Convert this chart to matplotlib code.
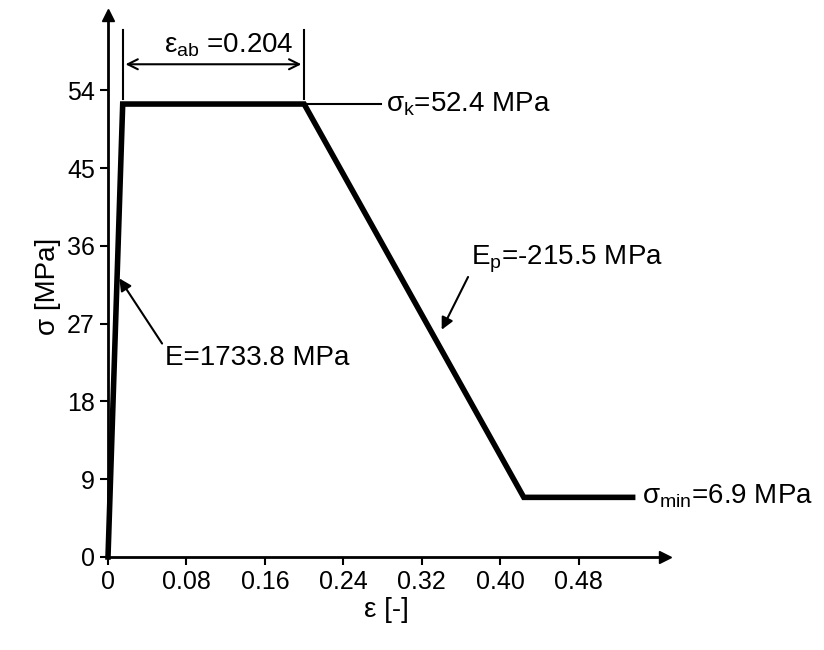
import matplotlib
matplotlib.use("Agg")
import matplotlib.pyplot as plt

strain = [0.0, 0.015, 0.200, 0.424, 0.535]
stress = [0.0, 52.4, 52.4, 6.9, 6.9]
xticks = [0, 0.08, 0.16, 0.24, 0.32, 0.40, 0.48]
xlabels = ["0", "0.08", "0.16", "0.24", "0.32", "0.40", "0.48"]
yticks = [0, 9, 18, 27, 36, 45, 54]

plt.rcParams['font.family'] = ['Liberation Sans', 'DejaVu Sans']
fig = plt.figure(figsize=(8.24, 6.5), dpi=100)
ax = fig.add_axes([108/824, (650-557)/650, (665-108)/824, (557-15)/650])
ax.set_xlim(0, 0.568)
ax.set_ylim(0, 62.7)
for s in ['top', 'right']:
    ax.spines[s].set_visible(False)
for s in ['left', 'bottom']:
    ax.spines[s].set_linewidth(2)
ax.plot(1, 0, ">k", transform=ax.get_yaxis_transform(), clip_on=False, ms=9)
ax.plot(0, 1, "^k", transform=ax.get_xaxis_transform(), clip_on=False, ms=9)

ax.plot(strain, stress, color='black', lw=4, solid_joinstyle='miter', clip_on=False)
ax.plot([0.2, 0.278], [52.4, 52.4], color='black', lw=1.5)

ax.set_xticks(xticks)
ax.set_xticklabels(xlabels)
ax.set_yticks(yticks)
ax.tick_params(labelsize=18, width=1.5, length=6, direction='out')
ax.set_xlabel("ε [-]", fontsize=20, labelpad=2)
ax.set_ylabel("σ [MPa]", fontsize=20, labelpad=4)

# dimension arrow
ax.plot([0.015, 0.015], [53, 61], color='black', lw=1.5, clip_on=False)
ax.plot([0.200, 0.200], [53, 61], color='black', lw=1.5, clip_on=False)
ax.annotate("", xy=(0.015, 57.0), xytext=(0.200, 57.0),
            arrowprops=dict(arrowstyle="<->", color='black', lw=1.5, mutation_scale=18))
ax.text(0.057, 59.2, r"ε$_{\mathregular{ab}}$ =0.204", fontsize=20, va='center')

ax.text(0.283, 52.4, r"σ$_{\mathregular{k}}$=52.4 MPa", fontsize=20, va='center')
ax.text(0.545, 7.0, r"σ$_{\mathregular{min}}$=6.9 MPa", fontsize=20, va='center')
ax.annotate(r"E$_{\mathregular{p}}$=-215.5 MPa", xy=(0.339, 26.0), xytext=(0.370, 34.5),
            fontsize=20, va='center',
            arrowprops=dict(arrowstyle="-|>", color='black', lw=1.5, mutation_scale=18,
                            shrinkA=0, relpos=(0.0, 0.1)))
ax.annotate("E=1733.8 MPa", xy=(0.010, 32.5), xytext=(0.058, 23.0),
            fontsize=20, va='center',
            arrowprops=dict(arrowstyle="-|>", color='black', lw=1.5, mutation_scale=18,
                            shrinkA=0, relpos=(0.0, 0.9)))

fig.savefig("out.png", dpi=100)
